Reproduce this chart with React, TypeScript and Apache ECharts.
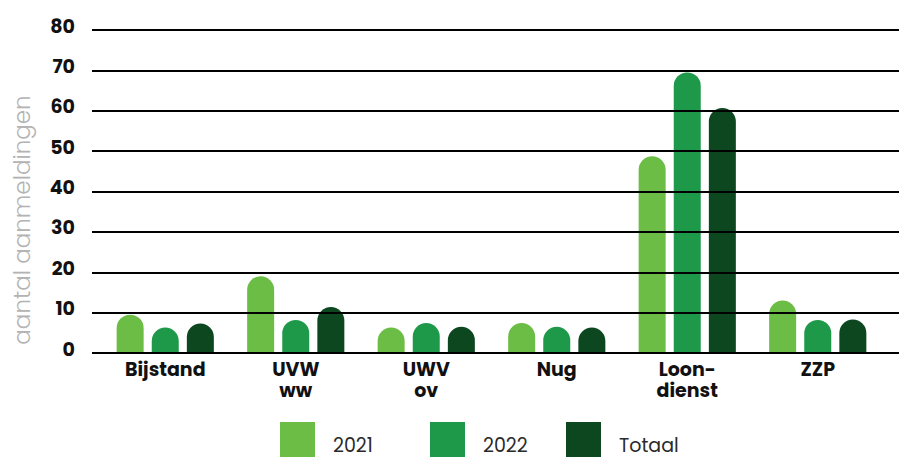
import React, { useEffect, useRef } from "react";
import * as echarts from "echarts";

const categories = ["Bijstand", "UVW\nww", "UWV\nov", "Nug", "Loon-\ndienst", "ZZP"];
const values2021 = [9.5, 19, 6.3, 7.4, 48.7, 13];
const values2022 = [6.3, 8.2, 7.4, 6.5, 69.5, 8.2];
const valuesTotaal = [7.3, 11.4, 6.5, 6.3, 60.7, 8.3];
const seriesNames = ["2021", "2022", "Totaal"];
const colors = ["#6cbd45", "#1e9849", "#0c4720"];
const yMin = 0;
const yMax = 80;
const yInterval = 10;

const FONT = "Poppins, Inter, 'Noto Sans', sans-serif";

export default function App() {
  const ref = useRef<HTMLDivElement>(null);
  useEffect(() => {
    if (!ref.current) return;
    const chart = echarts.init(ref.current, undefined, { renderer: "svg" });
    const seriesData = [values2021, values2022, valuesTotaal];
    const legendLefts = [280, 430, 566];
    chart.setOption({
      animation: false,
      backgroundColor: "#ffffff",
      grid: [
        { left: 100, right: 16, top: 30, bottom: 104 },
        { left: 92, right: 0, top: 30, bottom: 104 },
      ],
      xAxis: [
        {
          type: "category",
          gridIndex: 0,
          data: categories,
          axisLine: { show: false },
          axisTick: { show: false },
          axisLabel: {
            color: "#111",
            fontFamily: FONT,
            fontWeight: "bold",
            fontSize: 19,
            lineHeight: 21,
            margin: 6,
          },
        },
        { type: "value", gridIndex: 1, show: false, min: 0, max: 1 },
      ],
      yAxis: [
        {
          type: "value",
          gridIndex: 0,
          min: yMin,
          max: yMax,
          interval: yInterval,
          show: false,
          splitLine: { show: false },
        },
        {
          type: "value",
          gridIndex: 1,
          min: yMin,
          max: yMax,
          interval: yInterval,
          z: 10,
          axisLine: { show: false },
          axisTick: { show: false },
          splitLine: { show: true, lineStyle: { color: "#000", width: 2 } },
          axisLabel: {
            color: "#111",
            fontFamily: FONT,
            fontWeight: "bold",
            fontSize: 19,
            margin: 17,
            verticalAlign: "bottom",
            lineHeight: 8,
          },
        },
      ],
      legend: seriesNames.map((n, i) => ({
        data: [n],
        left: legendLefts[i],
        top: 422,
        itemWidth: 35,
        itemHeight: 46,
        itemGap: 0,
        icon: "rect",
        selectedMode: false,
        padding: 0,
        textStyle: {
          color: "#2a2a2a",
          fontFamily: FONT,
          fontSize: 19,
          padding: [0, 0, 0, 13],
        },
      })),
      graphic: [
        {
          type: "text",
          x: 22,
          y: 220,
          rotation: Math.PI / 2,
          style: {
            text: "aantal aanmeldingen",
            fill: "#b3b3b3",
            fontFamily: FONT,
            fontWeight: 300,
            fontSize: 23,
            textAlign: "center",
            textVerticalAlign: "middle",
          },
        },
      ],
      series: seriesNames.map((n, i) => ({
        name: n,
        type: "bar",
        xAxisIndex: 0,
        yAxisIndex: 0,
        data: seriesData[i],
        barWidth: 27,
        barGap: "30%",
        itemStyle: { color: colors[i], borderRadius: [13.5, 13.5, 0, 0] },
      })),
    });
    return () => chart.dispose();
  }, []);
  return (
    <div
      ref={ref}
      style={{ position: "absolute", left: 0, top: 0, width: 899, height: 457 }}
    />
  );
}
